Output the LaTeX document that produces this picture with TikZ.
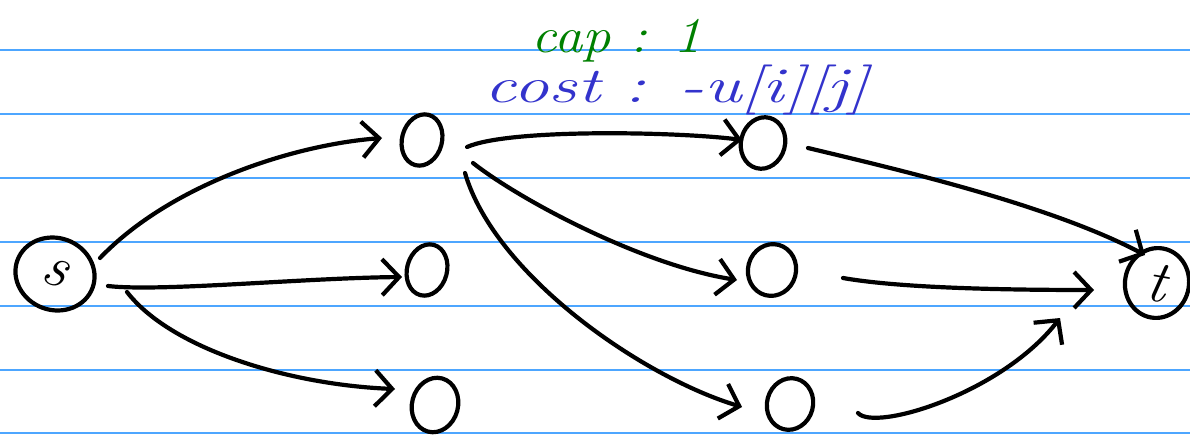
\documentclass[tikz,border=0pt]{standalone}
\usepackage{fontspec}
\usetikzlibrary{arrows.meta,shapes.geometric,calc}
\definecolor{ruled}{RGB}{77,166,255}
\definecolor{capgreen}{RGB}{0,128,0}
\definecolor{costblue}{RGB}{51,51,204}
\begin{document}
\begin{tikzpicture}[x=1pt,y=-1pt,
  ruleline/.style={ruled,line width=1.6pt},
  vtx/.style={draw,ellipse,line width=4.2pt,minimum width=40pt,minimum height=52pt,inner sep=0pt,rotate=-15},
  endvtx/.style={draw,ellipse,line width=4.2pt,inner sep=0pt,font=\fontsize{60}{60}\selectfont\itshape},
  edge/.style={line width=4.2pt,line cap=round,-{Straight Barb[length=17pt,width=36pt]}},
  lbl/.style={inner sep=0pt,anchor=base},
]
\useasboundingbox (0,0) rectangle (1190,434);
\foreach \yy in {50,114,178,242,306,370,433} \draw[ruleline] (0,\yy) -- (1190,\yy);

\node[endvtx,minimum width=80pt,minimum height=72pt,rotate=-20] (s) at (55,274) {\raisebox{3pt}{s}};
\node[endvtx,minimum width=64pt,minimum height=70pt,rotate=-10] (t) at (1157,283) {t};
\node[vtx] (a1) at (422,140) {};
\node[vtx] (a2) at (427,270) {};
\node[vtx,minimum width=46pt,minimum height=55pt] (a3) at (435,405) {};
\node[vtx,minimum width=44pt] (b1) at (763,143) {};
\node[vtx,minimum width=48pt] (b2) at (772,270) {};
\node[vtx,minimum width=46pt] (b3) at (790,404) {};

\node[lbl,text=capgreen,font=\fontsize{50}{50}\selectfont\itshape,xscale=1.13] (cap) at (617,52) {cap : 1};
\node[lbl,text=costblue,font=\fontsize{50}{50}\selectfont\itshape,xscale=1.42] (cost) at (677,102) {cost : -u[i][j]};

\draw[edge] ($(s)+(45,-16)$) .. controls +(70,-73) and +(-90,7) .. ($(a1)+(-40,-2)$);
\draw[edge] ($(s)+(53,12)$) .. controls +(52,6) and +(-100,1) .. ($(a2)+(-25,7)$);
\draw[edge] ($(s)+(72,18)$) .. controls +(45,58) and +(-103,-4) .. ($(a3)+(-40,-16)$);
\draw[edge] ($(a1)+(45,7)$) .. controls +(43,-19) and +(-60,-8) .. ($(b1)+(-21,-3)$);
\draw[edge] ($(a1)+(51,23)$) .. controls +(47,37) and +(-95,-15) .. ($(b2)+(-35,10)$);
\draw[edge] ($(a1)+(43,33)$) .. controls +(30,102) and +(-100,-30) .. ($(b3)+(-48,3)$);
\draw[edge] ($(b1)+(45,5)$) .. controls +(92,22) and +(-95,-50) .. ($(t)+(-12,-28)$);
\draw[edge] ($(b2)+(71,8)$) .. controls +(57,10) and +(-92,0) .. ($(t)+(-63,7)$);
\draw[edge] ($(b3)+(68,9)$) .. controls +(17,19) and +(-58,75) .. ($(t)+(-97,35)$);
\end{tikzpicture}
\end{document}
